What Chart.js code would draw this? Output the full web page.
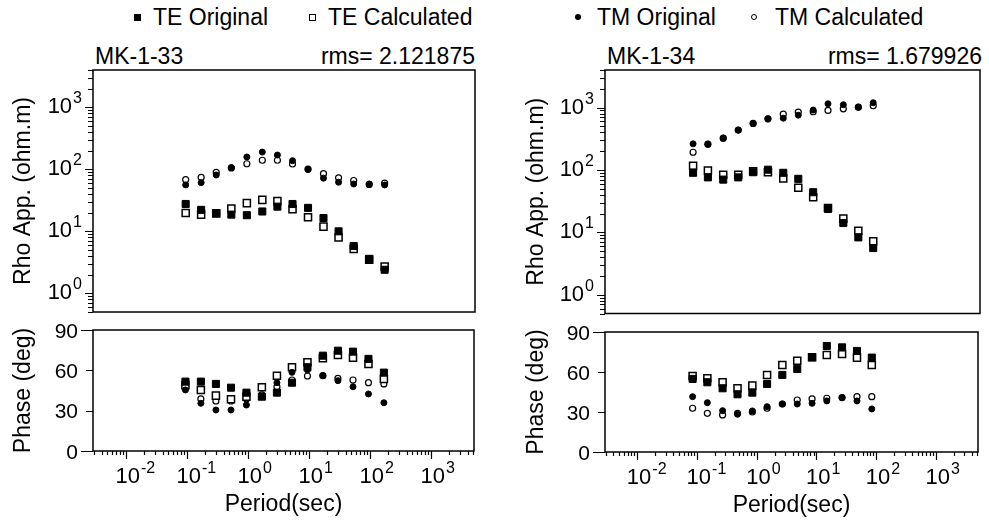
<!DOCTYPE html>
<html>
<head>
<meta charset="utf-8">
<script src="https://cdn.jsdelivr.net/npm/chart.js@4.4.0/dist/chart.umd.min.js"></script>
<style>
  body { margin: 0; background: #fff; width: 989px; height: 524px; position: relative; overflow: hidden;
         font-family: "Liberation Sans", Arial, sans-serif; color: #000; }
  canvas { position: absolute; }
  .t { position: absolute; font-size: 23px; line-height: 23px; white-space: nowrap; }
  .mk { position: absolute; box-sizing: border-box; }
</style>
</head>
<body>
<span class="mk" style="left:134px;top:14px;width:7px;height:7px;background:#000"></span>
<div class="t" style="left:153px;top:6px">TE Original</div>
<span class="mk" style="left:309px;top:14px;width:7px;height:7px;border:1.3px solid #000"></span>
<div class="t" style="left:328px;top:6px">TE Calculated</div>
<span class="mk" style="left:575px;top:14px;width:6px;height:6px;border-radius:50%;background:#000"></span>
<div class="t" style="left:597px;top:6px">TM Original</div>
<span class="mk" style="left:751px;top:14px;width:6px;height:6px;border-radius:50%;border:1.2px solid #000"></span>
<div class="t" style="left:775px;top:6px">TM Calculated</div>

<div class="t" style="left:95px;top:45px">MK-1-33</div>
<div class="t" style="right:514px;top:45px">rms= 2.121875</div>
<div class="t" style="left:607px;top:45px">MK-1-34</div>
<div class="t" style="right:7px;top:45px">rms= 1.679926</div>

<canvas id="rho33" width="490" height="260" style="left:0;top:60px"></canvas>
<canvas id="phs33" width="490" height="204" style="left:0;top:320px"></canvas>
<canvas id="rho34" width="479" height="260" style="left:510px;top:60px"></canvas>
<canvas id="phs34" width="479" height="204" style="left:510px;top:320px"></canvas>

<script>
// periods (sec)
const periods33 = [0.095, 0.17, 0.30, 0.53, 0.95, 1.7, 3.0, 5.3, 9.5, 17, 30, 53, 95, 170];
const periods34 = [0.085, 0.15, 0.27, 0.48, 0.85, 1.5, 2.7, 4.8, 8.5, 15, 27, 48, 85];

// MK-1-33 apparent resistivity (ohm.m)
const rhoTEobs33 = [27.6, 22.2, 19.6, 18.6, 18.2, 20.9, 25.0, 27.6, 23.9, 16.4, 10.0, 5.8, 3.6, 2.4];
const rhoTEcal33 = [19.8, 18.6, 19.5, 23.3, 28.5, 32.2, 30.7, 22.7, 16.9, 11.9, 8.0, 5.2, 3.5, 2.7];
const rhoTMobs33 = [56, 61, 81, 107, 158, 190, 170, 138, 99, 72, 62, 58, 58, 56];
const rhoTMcal33 = [68, 74, 89, 105, 123, 140, 140, 122, 101, 85, 73, 66, 57, 60];
// MK-1-33 phase (deg)
const phsTEobs33 = [51.6, 51.6, 49.9, 47.1, 43.4, 40.4, 43.4, 50.8, 62.3, 70.9, 74.6, 73.9, 68.5, 58.3];
const phsTEcal33 = [49.0, 45.4, 41.2, 38.5, 40.4, 47.4, 56.0, 62.3, 66.0, 69.0, 71.4, 69.4, 64.7, 53.6];
const phsTMobs33 = [45.4, 35.5, 30.5, 30.5, 34.2, 40.4, 50.8, 58.5, 60.3, 56.0, 52.3, 47.8, 42.4, 35.9];
const phsTMcal33 = [47.8, 38.7, 37.2, 37.2, 38.7, 41.7, 47.8, 52.8, 55.8, 56.0, 54.0, 52.8, 50.8, 49.9];

// MK-1-34 apparent resistivity (ohm.m)
const rhoTEobs34 = [90, 76, 70, 76, 92, 101, 90, 72, 44, 23.7, 14.1, 8.3, 5.6];
const rhoTEcal34 = [117, 98, 84, 84, 95, 92, 73, 52, 36.5, 24.6, 16.6, 10.6, 7.2];
const rhoTMobs34 = [262, 259, 323, 435, 556, 660, 675, 755, 912, 1150, 1110, 1015, 1195];
const rhoTMcal34 = [192, 259, 323, 435, 556, 660, 784, 846, 857, 900, 955, 1015, 1070];
// MK-1-34 phase (deg)
const phsTEobs34 = [54.8, 52.3, 47.8, 43.3, 44.5, 51.0, 57.8, 62.3, 71.0, 79.5, 78.5, 75.8, 70.8];
const phsTEcal34 = [57.0, 55.3, 52.3, 47.8, 49.8, 57.8, 65.3, 68.5, 71.0, 72.8, 73.5, 70.8, 65.3];
const phsTMobs34 = [41.5, 37.0, 31.0, 28.3, 30.8, 34.0, 36.0, 36.0, 36.5, 38.3, 40.8, 38.3, 32.3];
const phsTMcal34 = [32.8, 29.0, 27.8, 29.0, 30.0, 32.8, 36.0, 39.0, 39.8, 40.3, 40.8, 41.5, 41.5];

// axes
const periodDecades = [-2, -1, 0, 1, 2, 3];
const rhoDecades = [0, 1, 2, 3];
const phaseTicks = [0, 30, 60, 90];
const xMin = 0.0029, xMax = 5100;
const rhoMin = 0.5, rhoMax = 4000;

const FONT = '"Liberation Sans", Arial, sans-serif';
Chart.defaults.font.family = FONT;
Chart.defaults.color = '#000';

// all 1..9 x 10^n positions inside [min, max]
function logTicks(min, max) {
    const out = [];
    for (let e = Math.floor(Math.log10(min)); e <= Math.ceil(Math.log10(max)); e++) {
        for (let m = 1; m <= 9; m++) {
            const v = Number((m * Math.pow(10, e)).toPrecision(6));
            if (v >= min * 0.999 && v <= max * 1.001) out.push({ v: v, major: m === 1 });
        }
    }
    return out;
}

// "10" with a raised exponent
function powLabel(ctx, e, x, y, align) {
    ctx.font = '22px ' + FONT;
    const w1 = ctx.measureText('10').width;
    ctx.font = '16px ' + FONT;
    const w2 = ctx.measureText(String(e)).width;
    let left;
    if (align === 'center') left = x + 2 - w1 / 2;
    else left = x - w1 - w2 - 1;
    ctx.textAlign = 'left';
    ctx.textBaseline = 'alphabetic';
    ctx.font = '22px ' + FONT;
    ctx.fillText('10', left, y + 8);
    ctx.font = '16px ' + FONT;
    ctx.fillText(String(e), left + w1 + 1, y - 2);
}

const frameTicks = {
    id: 'frameTicks',
    afterDraw(chart, args, o) {
        const ctx = chart.ctx;
        const a = chart.chartArea;
        const xs = chart.scales.x, ys = chart.scales.y;
        ctx.save();
        ctx.strokeStyle = '#000';
        ctx.fillStyle = '#000';
        ctx.lineWidth = 1.5;
        ctx.strokeRect(a.left, a.top, a.right - a.left, a.bottom - a.top);

        ctx.lineWidth = 1.2;
        ctx.beginPath();
        if (o.kind === 'rho') {
            logTicks(rhoMin, rhoMax).forEach(t => {
                const y = Math.round(ys.getPixelForValue(t.v)) + 0.5;
                ctx.moveTo(a.left, y);
                ctx.lineTo(a.left - (t.major ? 8 : 5), y);
            });
        } else {
            phaseTicks.forEach(v => {
                const y = Math.round(ys.getPixelForValue(v)) + 0.5;
                ctx.moveTo(a.left, y);
                ctx.lineTo(a.left - (v === 0 || v === 90 ? 12 : 7), y);
            });
            logTicks(xMin, xMax).forEach(t => {
                const x = Math.round(xs.getPixelForValue(t.v)) + 0.5;
                ctx.moveTo(x, a.bottom);
                ctx.lineTo(x, a.bottom + (t.major ? 8 : 4));
            });
        }
        ctx.stroke();

        if (o.kind === 'rho') {
            rhoDecades.forEach(e => {
                powLabel(ctx, e, a.left - 11, ys.getPixelForValue(Math.pow(10, e)) - 2, 'right');
            });
        } else {
            ctx.font = '21px ' + FONT;
            ctx.textAlign = 'right';
            ctx.textBaseline = 'alphabetic';
            phaseTicks.forEach(v => {
                ctx.fillText(String(v), a.left - 15, ys.getPixelForValue(v) + 7.5);
            });
            periodDecades.forEach(e => {
                powLabel(ctx, e, xs.getPixelForValue(Math.pow(10, e)), a.bottom + 24, 'center');
            });
        }
        ctx.restore();
    }
};

function scatterSets(periods, teObs, teCal, tmObs, tmCal) {
    const pts = vals => periods.map((p, i) => ({ x: p, y: vals[i] }));
    return [
        { label: 'TE Original', data: pts(teObs), pointStyle: 'rect', pointRadius: 5,
          backgroundColor: '#000', borderColor: '#000', borderWidth: 1 },
        { label: 'TM Original', data: pts(tmObs), pointStyle: 'circle', pointRadius: 3,
          backgroundColor: '#000', borderColor: '#000', borderWidth: 1 },
        { label: 'TE Calculated', data: pts(teCal), pointStyle: 'rect', pointRadius: 5,
          backgroundColor: '#fff', borderColor: '#000', borderWidth: 1.5 },
        { label: 'TM Calculated', data: pts(tmCal), pointStyle: 'circle', pointRadius: 3,
          backgroundColor: '#fff', borderColor: '#000', borderWidth: 1.2 }
    ];
}

function makeChart(id, datasets, kind, yWidth, titlePad, padding) {
    const isRho = kind === 'rho';
    const yScale = isRho
        ? { type: 'logarithmic', min: rhoMin, max: rhoMax }
        : { type: 'linear', min: 0, max: 90 };
    Object.assign(yScale, {
        ticks: { display: false },
        grid: { display: false },
        border: { display: false },
        title: { display: true, text: isRho ? 'Rho App. (ohm.m)' : 'Phase (deg)',
                 font: { size: 23 }, padding: { top: titlePad, bottom: 0 } },
        afterFit: s => { s.width = yWidth; }
    });
    return new Chart(document.getElementById(id), {
        type: 'scatter',
        data: { datasets: datasets },
        options: {
            responsive: false,
            animation: false,
            events: [],
            layout: { padding: padding },
            plugins: {
                legend: { display: false },
                tooltip: { enabled: false },
                frameTicks: { kind: kind }
            },
            scales: {
                x: {
                    type: 'logarithmic', min: xMin, max: xMax,
                    display: !isRho,
                    ticks: { display: false },
                    grid: { display: false },
                    border: { display: false },
                    title: { display: true, text: 'Period(sec)', font: { size: 23 },
                             padding: { top: 0, bottom: 5 } },
                    // the upper panels have no x axis at all
                    afterFit: s => { s.height = isRho ? 0 : 72; }
                },
                y: yScale
            }
        },
        plugins: [frameTicks]
    });
}

makeChart('rho33', scatterSets(periods33, rhoTEobs33, rhoTEcal33, rhoTMobs33, rhoTMcal33),
    'rho', 93, 10, { top: 10, right: 15, bottom: 8, left: 0 });
makeChart('phs33', scatterSets(periods33, phsTEobs33, phsTEcal33, phsTMobs33, phsTMcal33),
    'phase', 93, 10, { top: 10, right: 16, bottom: 1, left: 0 });
makeChart('rho34', scatterSets(periods34, rhoTEobs34, rhoTEcal34, rhoTMobs34, rhoTMcal34),
    'rho', 95, 13, { top: 10, right: 9, bottom: 6, left: 0 });
makeChart('phs34', scatterSets(periods34, phsTEobs34, phsTEcal34, phsTMobs34, phsTMcal34),
    'phase', 95, 13, { top: 12, right: 11, bottom: 0, left: 0 });
</script>
</body>
</html>
